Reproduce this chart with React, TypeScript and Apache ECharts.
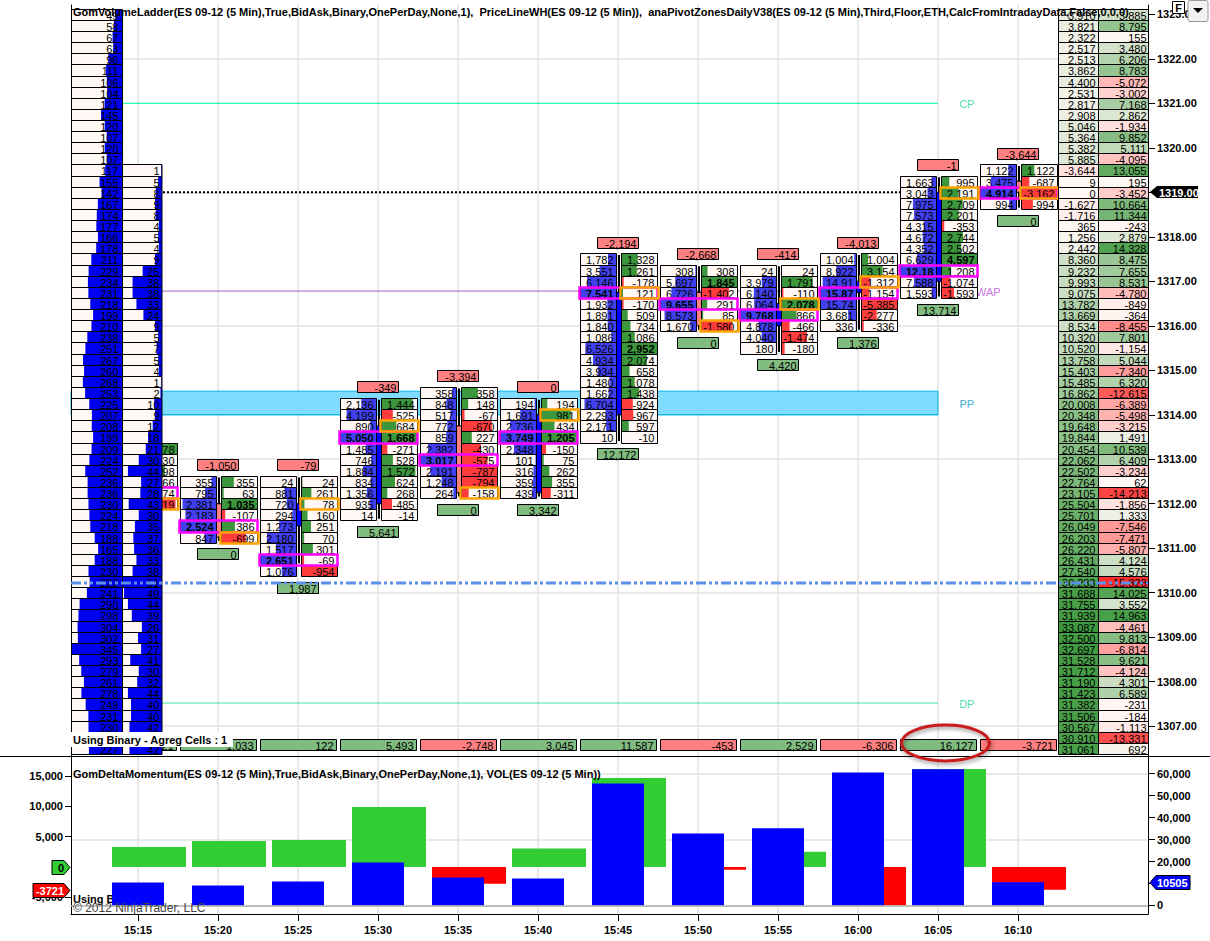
import React, { useEffect, useRef } from "react";
import * as echarts from "echarts";

const timeLabels = ["15:15", "15:20", "15:25", "15:30", "15:35", "15:40", "15:45", "15:50", "15:55", "16:00", "16:05", "16:10"];
const firstRowPrice = [1313.25, 1312.5, 1312.5, 1314.25, 1314.5, 1314.25, 1317.5, 1317.25, 1317.25, 1317.5, 1319.25, 1319.5];
const bidRows: number[][] = [
  [],
  [355, 795, 2381, 2183, 2524, 847],
  [24, 881, 720, 294, 1273, 2180, 1517, 2651, 1076],
  [2136, 4199, 890, 5050, 1485, 746, 1884, 834, 1356, 935, 14],
  [358, 848, 517, 772, 859, 2382, 3017, 2191, 1248, 264],
  [194, 1691, 2736, 3749, 2348, 101, 316, 359, 439],
  [1782, 3551, 6146, 7541, 1932, 1891, 1840, 1086, 6526, 4934, 3934, 1480, 1662, 6704, 2293, 2171, 10],
  [308, 5697, 6726, 9655, 8573, 1670],
  [24, 3979, 6140, 6064, 9768, 4878, 4040, 180],
  [1004, 8922, 14910, 15870, 15740, 3681, 336],
  [1663, 3043, 7975, 7573, 4315, 4672, 4352, 6629, 12180, 7588, 1593],
  [1122, 3475, 4914, 994],
];
const deltaRows: number[][] = [
  [1078, 130, 698, 166, 174, -1019],
  [355, 63, 1035, -107, 386, -699],
  [24, 261, 78, 160, 251, 70, 301, -69, -954],
  [1444, -525, 684, 1668, -271, 528, 1572, 624, 268, -485, -14],
  [358, 148, -67, -670, 227, -430, -575, -787, -794, -158],
  [194, 981, 434, 1205, -150, 75, 262, 355, -311],
  [1328, 1261, -178, 121, -170, 509, 734, 1086, 2952, 2074, 658, 1078, 1438, -924, -967, 597, -10],
  [308, 1845, -1402, 291, 85, -1580],
  [24, 1791, -110, 2078, 866, -466, -1474, -180],
  [1004, 3154, -1312, -1154, -5385, -2277, -336],
  [995, 2191, 2709, 2201, -353, 2744, 2502, 4597, 1208, -1074, -1593],
  [1122, -687, -3162, -994],
];
const pocRow = [4, 4, 7, 3, 6, 3, 3, 3, 4, 3, 8, 2];
const orangeRow = [5, 5, 2, 2, 9, 1, 3, 5, 3, 2, 1, 2];
const boldDeltaRow = [-1, 2, -1, 3, -1, 3, 8, 1, 3, -1, 7, -1];
const candleOpen = [null, 1312, 1311.5, 1312, 1313.75, 1312.25, 1314, 1316.75, 1316, 1316.75, 1317, 1319.25];
const candleClose = [null, 1311.25, 1312, 1313.75, 1312.25, 1314, 1316.75, 1316, 1316.5, 1317, 1319, 1319];
const candleHigh = [null, 1312.5, 1312.5, 1314.25, 1314.5, 1314.25, 1317.5, 1317.25, 1317.25, 1317.5, 1319.25, 1319.5];
const candleLow = [null, 1311.25, 1310.75, 1311.75, 1312.25, 1312.25, 1313.5, 1316, 1315.5, 1316, 1316.75, 1318.75];
const topTags = [null, -1050, -79, -349, -3394, 0, -2194, -2668, -414, -4013, -1, -3644];
const bottomTags = [null, 0, 1987, 5641, 0, 3342, 12172, 0, 4420, 1376, 13714, 0];
const barTotals = [3221, 1033, 122, 5493, -2748, 3045, 11587, -453, 2529, -6306, 16127, -3721];
const deltaMomentum = [3289, 4276, 4440, 9870, -2748, 3045, 14638, -453, 2529, -6306, 16127, -3721];
const volume = [10486, 9118, 10942, 19600, 12766, 12300, 55600, 32800, 35100, 60600, 62000, 10505];

const ladderTopPrice = 1323;
const ladderCol1 = [49, 58, 67, 63, 96, 111, 106, 104, 121, 145, 120, 107, 120, 107, 117, 155, 142, 167, 174, 177, 166, 178, 211, 229, 234, 231, 218, 199, 210, 238, 251, 267, 260, 268, 253, 225, 207, 208, 199, 209, 224, 252, 236, 236, 230, 224, 218, 188, 165, 188, 230, 222, 241, 290, 298, 304, 302, 345, 293, 279, 261, 278, 249, 231, 230, 235, 227];
const ladderCol2TopPrice = 1319.5;
const ladderCol2 = [1, 5, 8, 9, 8, 4, 5, 4, 9, 25, 38, 38, 33, 24, 9, 5, 7, 5, 4, 1, 2, 10, 9, 12, 18, 21, 30, 44, 27, 28, 43, 30, 35, 37, 36, 33, 38, 51, 49, 44, 39, 26, 31, 27, 41, 30, 32, 44, 40, 40, 42, 42, 42];
const profileA = [3910, 3821, 2322, 2517, 2513, 3862, 4400, 2531, 2817, 2908, 5046, 5364, 5382, 5885, -3644, 9, 0, -1627, -1716, 365, 1256, 2442, 8360, 9232, 9993, 9075, 13782, 13669, 8534, 10320, 10520, 13758, 15403, 15485, 16862, 20008, 20348, 19648, 19844, 20454, 22062, 22502, 22764, 23105, 25504, 25701, 26049, 26203, 26220, 26431, 27540, 30283, 31688, 31755, 31939, 33087, 32500, 32697, 31528, 31712, 31190, 31423, 31382, 31506, 30567, 30910, 31061];
const profileB = [3885, 8795, 155, 3480, 6206, 8783, -5072, -3002, 7168, 2862, -1934, 9852, 5111, -4095, 13055, 195, -3452, 10664, 11344, -243, 2879, 14328, 8475, 7655, 8531, -4780, -849, -364, -8455, 7801, -1154, 5044, -7340, 6320, -12615, -6389, -5498, -3215, 1491, 10539, 6409, -3234, 62, -14213, -1856, 1333, -7546, -7471, -5807, 4124, 4576, -15828, 14025, 3552, 14963, -4461, 9813, -6814, 9621, -4124, 4301, 6589, -231, -184, -1113, -13331, 692];

const lastPrice = 1319;
const cpPrice = 1321;
const wapPrice = 1316.78;
const ppTop = 1314.53;
const ppBottom = 1314;
const dpPrice = 1307.52;
const bluePrice = 1310.22;
const priceTicks = [1307, 1308, 1309, 1310, 1311, 1312, 1313, 1314, 1315, 1316, 1317, 1318, 1319, 1320, 1321, 1322, 1323];
const priceGridTicks = [1307, 1310, 1313, 1316, 1319, 1322];
const deltaTicks = [-5000, 5000, 10000, 15000];
const volumeTicks = [0, 10000, 20000, 30000, 40000, 50000, 60000];
const volumeGridTicks = [30000, 60000];
const barIndexes = timeLabels.map((_, i) => i);

const X_MIN = -0.8375;
const X_MAX = 12.625;
const PRICE_MIN = 1306.33;
const PRICE_MAX = 1323.21;
const TOTALS_PRICE = 1306.58;
const STEP = 0.25;
const FONT = "'Liberation Sans', Arial, sans-serif";
const CELL_FONT = `11px ${FONT}`;
const BOLD_FONT = `bold 11px ${FONT}`;
const BG = "#fff8f5";

const fmt = (v: number) => v.toLocaleString("en-US");
const snap = (v: number) => Math.round(v) + 0.5;
const mix = (a: number[], b: number[], t: number) => {
  const k = Math.min(1, Math.max(0, t));
  return `rgb(${a.map((c, i) => Math.round(c + (b[i] - c) * k)).join(",")})`;
};
const bgRgb = [255, 248, 245];
const greenRgb = [63, 154, 63];
const redRgb = [255, 48, 48];

function rowBox(api: any, x: number, price: number) {
  const p = api.coord([x, price]);
  const h = api.size([0, STEP])[1];
  const top = snap(p[1] - h / 2);
  const bottom = snap(p[1] + h / 2);
  return { px: p[0], py: p[1], top, height: bottom - top, mid: (top + bottom) / 2 + 0.5 };
}

const rectEl = (x: number, y: number, w: number, h: number, fill: string, stroke?: string, lineWidth = 1) => ({
  type: "rect",
  shape: { x, y, width: w, height: h },
  style: { fill, stroke: stroke || "none", lineWidth },
});
const textEl = (x: number, y: number, text: string, font = CELL_FONT, fill = "#000", align = "right") => ({
  type: "text",
  style: { x, y, text, font, fill, align, verticalAlign: "middle" },
});

const cellData: number[][] = [];
bidRows.forEach((_, i) => {
  const bids = bidRows[i];
  const deltas = deltaRows[i];
  const bidMax = bids.length ? Math.max(...bids) : 1;
  const deltaMax = Math.max(...deltas.map(Math.abs));
  deltas.forEach((d, r) => {
    cellData.push([i, firstRowPrice[i] - r * STEP, bids.length ? bids[r] : -1, d, bidMax, deltaMax, r === pocRow[i] ? 1 : 0, r === boldDeltaRow[i] ? 1 : 0]);
  });
});

const renderCell = (_p: any, api: any) => {
  const b = rowBox(api, api.value(0), api.value(1));
  const bid = api.value(2);
  const d = api.value(3);
  const cx = snap(b.px);
  const children: any[] = [];
  if (bid >= 0) {
    const w = 36;
    const xL = cx - 38;
    children.push(rectEl(xL, b.top, w, b.height, BG));
    const fw = (bid / api.value(4)) * w;
    children.push(rectEl(xL + w - fw, b.top, fw, b.height, "#4040f0"));
    children.push(rectEl(xL, b.top, w, b.height, "none", "#000"));
    const s = bid >= 10000 ? fmt(bid).slice(0, -1) : fmt(bid);
    children.push(textEl(xL + w - 3, b.mid, s, api.value(6) ? BOLD_FONT : CELL_FONT));
  }
  const w = 36;
  const xR = cx + 3;
  children.push(rectEl(xR, b.top, w, b.height, BG));
  const fw = (Math.abs(d) / api.value(5)) * w;
  children.push(rectEl(xR, b.top, fw, b.height, d >= 0 ? "#3c963c" : "#ff3c3c"));
  children.push(rectEl(xR, b.top, w, b.height, "none", "#000"));
  children.push(textEl(xR + w - 3, b.mid, fmt(d), api.value(7) ? BOLD_FONT : CELL_FONT));
  return { type: "group", children };
};

const candleData = barIndexes
  .filter((i) => candleOpen[i] !== null)
  .map((i) => [i, candleHigh[i] as number, candleLow[i] as number, candleOpen[i] as number, candleClose[i] as number]);
const renderCandle = (_p: any, api: any) => {
  const i = api.value(0);
  const cx = snap(api.coord([i, 0])[0]) + 0.5;
  const yH = api.coord([i, api.value(1)])[1] - 4;
  const yL = api.coord([i, api.value(2)])[1] + 4;
  const yO = api.coord([i, api.value(3)])[1];
  const yC = api.coord([i, api.value(4)])[1];
  const up = api.value(4) >= api.value(3);
  return {
    type: "group",
    children: [
      rectEl(cx - 1, yH, 2, yL - yH, "#000"),
      rectEl(cx - 2.5, Math.min(yO, yC), 5, Math.abs(yO - yC), up ? "#0000ff" : "#ff8080", "#000", 1),
    ],
  };
};

const boxData: number[][] = [];
barIndexes.forEach((i) => {
  boxData.push([i, firstRowPrice[i] - pocRow[i] * STEP, 0]);
});
barIndexes.forEach((i) => {
  boxData.push([i, firstRowPrice[i] - orangeRow[i] * STEP, 1]);
});
const renderBox = (_p: any, api: any) => {
  const b = rowBox(api, api.value(0), api.value(1));
  const cx = snap(b.px);
  const orange = api.value(2) === 1;
  const x = orange ? cx + 2 : cx - 39;
  const w = orange ? 38 : 78;
  return rectEl(x, b.top, w, b.height, "none", orange ? "#ffa500" : "#ff00ff", 2.5);
};

const tagData: number[][] = [];
barIndexes.forEach((i) => {
  if (topTags[i] !== null) tagData.push([i, firstRowPrice[i] + 1.5 * STEP, topTags[i] as number, 0]);
  if (bottomTags[i] !== null)
    tagData.push([i, firstRowPrice[i] - (deltaRows[i].length - 1) * STEP - 1.5 * STEP, bottomTags[i] as number, 1]);
});
const renderTag = (_p: any, api: any) => {
  const p = api.coord([api.value(0), api.value(1)]);
  const cx = snap(p[0]);
  const y = snap(p[1] - 5.5);
  const red = api.value(3) === 0;
  return {
    type: "group",
    children: [
      rectEl(cx - 21, y, 41, 11, red ? "#ff8080" : "#80bc80", "#000"),
      textEl(cx + 18, y + 6, fmt(api.value(2))),
    ],
  };
};

const totalsData = barIndexes.map((i) => [i, TOTALS_PRICE, barTotals[i]]);
const renderTotal = (_p: any, api: any) => {
  const p = api.coord([api.value(0), api.value(1)]);
  const cx = snap(p[0]);
  const y = snap(p[1] - 5.5);
  const v = api.value(2);
  return {
    type: "group",
    children: [
      rectEl(cx - 38, y, 76, 11, v >= 0 ? "#80bc80" : "#ff8080", "#000"),
      textEl(cx + 35, y + 6, fmt(v)),
    ],
  };
};

const ladderData: number[][] = [];
ladderCol1.forEach((v, r) => ladderData.push([X_MIN, ladderTopPrice - r * STEP, v, 0]));
ladderCol2.forEach((v, r) => ladderData.push([X_MIN, ladderCol2TopPrice - r * STEP, v, 1]));
const renderLadder = (_p: any, api: any) => {
  const b = rowBox(api, api.value(0), api.value(1));
  const second = api.value(3) === 1;
  const x = snap(b.px) + (second ? 51 : 0);
  const w = second ? 39.5 : 51;
  const v = api.value(2);
  const fw = (v / (second ? Math.max(...ladderCol2) : Math.max(...ladderCol1))) * w;
  return {
    type: "group",
    children: [
      rectEl(x, b.top, w, b.height, BG),
      rectEl(x + w - fw, b.top, fw, b.height, "#0000f0"),
      rectEl(x, b.top, w, b.height, "none", "#000"),
      textEl(x + w - (second ? 2.5 : 4), b.mid, String(v)),
    ],
  };
};

const profileData: number[][] = profileA.map((a, r) => [X_MAX, ladderTopPrice - r * STEP, a, profileB[r]]);
const renderProfile = (_p: any, api: any) => {
  const b = rowBox(api, api.value(0), api.value(1));
  const xEnd = snap(b.px);
  const a = api.value(2);
  const d = api.value(3);
  const maxA = Math.max(...profileA.map(Math.abs));
  const maxB = Math.max(...profileB.map(Math.abs));
  const xMid = xEnd - 50;
  const xStart = xEnd - 90;
  const fa = a >= 0 ? mix(bgRgb, greenRgb, a / maxA) : mix(bgRgb, redRgb, -a / maxA);
  const fb = d >= 0 ? mix(bgRgb, greenRgb, d / maxB) : mix(bgRgb, redRgb, -d / maxB);
  return {
    type: "group",
    children: [
      rectEl(xStart, b.top, 40, b.height, fa, "#000"),
      rectEl(xMid, b.top, 50, b.height, fb, "#000"),
      textEl(xMid - 3, b.mid, fmt(a)),
      textEl(xEnd - 2, b.mid, fmt(d)),
    ],
  };
};

const pivotLabels: (string | number)[][] = [
  [10.36, cpPrice, "CP", "#52e0a8"],
  [10.63, wapPrice, "WAP", "#c878e0"],
  [10.36, (ppTop + ppBottom) / 2, "PP", "#3fb0d8"],
  [10.36, dpPrice, "DP", "#52e0a8"],
];
const renderPivotLabel = (p: any, api: any) => {
  const pt = api.coord([api.value(0), api.value(1)]);
  const row = pivotLabels[p.dataIndex];
  return textEl(pt[0], pt[1] + 1, String(row[2]), `11px ${FONT}`, String(row[3]), "center");
};

const renderPriceTag = (_p: any, api: any) => {
  const pt = api.coord([api.value(0), api.value(1)]);
  const x = pt[0] + 2;
  const y = snap(pt[1]) - 0.5;
  return {
    type: "group",
    children: [
      { type: "polygon", shape: { points: [[x, y], [x + 7, y - 6], [x + 48, y - 6], [x + 48, y + 6], [x + 7, y + 6]] }, style: { fill: "#000" } },
      textEl(x + 9, y + 0.5, fmt(api.value(1)).replace(",", "") + ".00", BOLD_FONT, "#fff", "left"),
    ],
  };
};
const renderVolumeTag = (_p: any, api: any) => {
  const pt = api.coord([api.value(0), api.value(1)]);
  const x = pt[0] + 2;
  const y = snap(pt[1]);
  return {
    type: "group",
    children: [
      { type: "polygon", shape: { points: [[x, y], [x + 6, y - 7], [x + 40, y - 7], [x + 40, y + 7], [x + 6, y + 7]] }, style: { fill: "#0000ff", stroke: "#000", lineWidth: 1 } },
      textEl(x + 7, y + 0.5, String(api.value(1)), BOLD_FONT, "#fff", "left"),
    ],
  };
};
const renderDeltaTag = (_p: any, api: any) => {
  const pt = api.coord([api.value(0), api.value(1)]);
  const x = pt[0] - 1;
  const y = snap(pt[1]);
  const v = api.value(1);
  const w = v === 0 ? 18 : 37;
  return {
    type: "group",
    children: [
      { type: "polygon", shape: { points: [[x, y], [x - 6, y - 7], [x - w, y - 7], [x - w, y + 7], [x - 6, y + 7]] }, style: { fill: v === 0 ? "#32cd32" : "#ff0000", stroke: "#000", lineWidth: 1 } },
      textEl(x - 6, y + 0.5, String(v), BOLD_FONT, v === 0 ? "#000" : "#fff"),
    ],
  };
};

const custom = (z: number, data: any[], renderItem: any, xAxisIndex = 0, yAxisIndex = 0) => ({
  type: "custom",
  coordinateSystem: "cartesian2d",
  xAxisIndex,
  yAxisIndex,
  z,
  silent: true,
  clip: false,
  data,
  renderItem,
});
const hLine = (z: number, price: number, x0: number, x1: number, color: string, width: number, type: any = "solid") => ({
  type: "line",
  xAxisIndex: 0,
  yAxisIndex: 0,
  z,
  silent: true,
  symbol: "none",
  data: [[x0, price], [x1, price]],
  lineStyle: { color, width, type },
});

const axisLabelStyle = { color: "#000", fontFamily: FONT, fontSize: 11, fontWeight: "bold" as const };
const blackLine = { show: true, onZero: false, lineStyle: { color: "#000", width: 1 } };
const blackTick = { show: true, length: 7, lineStyle: { color: "#000", width: 1 } };
const gridSplit = { show: true, lineStyle: { color: "#e2e2e2", width: 1.5 } };

export default function App() {
  const ref = useRef<HTMLDivElement>(null);
  useEffect(() => {
    document.body.style.margin = "0";
    const chart = echarts.init(ref.current!, undefined, { renderer: "svg" });
    const option: any = {
      animation: false,
      backgroundColor: "#fff",
      grid: [
        { left: 71, right: 62, top: 5, height: 751 },
        { left: 71, right: 62, top: 756, height: 158 },
      ],
      xAxis: [
        {
          type: "value", gridIndex: 0, min: X_MIN, max: X_MAX,
          axisLine: { show: false },
          axisTick: { show: false, customValues: barIndexes },
          axisLabel: { show: false, customValues: barIndexes },
          splitLine: gridSplit,
        },
        {
          type: "value", gridIndex: 1, min: X_MIN, max: X_MAX, position: "bottom",
          axisLine: blackLine,
          axisTick: { ...blackTick, customValues: barIndexes },
          axisLabel: { ...axisLabelStyle, customValues: barIndexes, margin: 10, formatter: (v: number) => timeLabels[v] ?? "" },
          splitLine: gridSplit,
        },
      ],
      yAxis: [
        {
          type: "value", gridIndex: 0, position: "right", min: PRICE_MIN, max: PRICE_MAX,
          axisLine: blackLine,
          axisTick: { ...blackTick, customValues: priceTicks },
          axisLabel: { ...axisLabelStyle, customValues: priceTicks, margin: 9, formatter: (v: number) => v.toFixed(2) },
          splitLine: { show: false },
        },
        {
          type: "value", gridIndex: 0, position: "left", min: PRICE_MIN, max: PRICE_MAX,
          axisLine: blackLine,
          axisTick: { show: false, customValues: priceGridTicks },
          axisLabel: { show: false, customValues: priceGridTicks },
          splitLine: gridSplit,
        },
        {
          type: "value", gridIndex: 1, position: "left", min: -7730, max: 18260,
          axisLine: blackLine,
          axisTick: { ...blackTick, length: 6, customValues: deltaTicks },
          axisLabel: { ...axisLabelStyle, customValues: deltaTicks, margin: 8 },
          splitLine: { show: false },
        },
        {
          type: "value", gridIndex: 1, position: "right", min: -3920, max: 68080,
          axisLine: blackLine,
          axisTick: { ...blackTick, customValues: volumeTicks },
          axisLabel: { ...axisLabelStyle, customValues: volumeTicks, margin: 9 },
          splitLine: { show: false },
        },
        {
          type: "value", gridIndex: 1, position: "right", min: -3920, max: 68080,
          axisLine: { show: false },
          axisTick: { show: false, customValues: volumeGridTicks },
          axisLabel: { show: false, customValues: volumeGridTicks },
          splitLine: gridSplit,
        },
      ],
      series: [
        {
          type: "line", xAxisIndex: 0, yAxisIndex: 0, z: 1, silent: true, symbol: "none",
          data: [[X_MIN, ppBottom], [10, ppBottom]],
          lineStyle: { color: "#00b4e6", width: 1 },
          markArea: {
            silent: true,
            itemStyle: { color: "#80dcff", borderColor: "#00b4e6", borderWidth: 1 },
            data: [[{ coord: [X_MIN, ppTop] }, { coord: [10, ppBottom] }]],
          },
        },
        hLine(2, cpPrice, X_MIN, 10, "#00fa9a", 1),
        hLine(2, dpPrice, X_MIN, 10, "#40e0a0", 1),
        hLine(2, wapPrice, X_MIN, 10.45, "#a060c8", 1),
        hLine(2, lastPrice, X_MIN, 11.5, "#000", 2, [2, 2]),
        custom(3, pivotLabels, renderPivotLabel),
        custom(5, cellData, renderCell),
        custom(6, candleData, renderCandle),
        custom(7, boxData, renderBox),
        custom(7, tagData, renderTag),
        custom(7, totalsData, renderTotal),
        custom(8, ladderData, renderLadder),
        custom(8, profileData, renderProfile),
        hLine(9, bluePrice, X_MIN, X_MAX, "#5b8fe8", 3, [10, 3, 3, 3, 3, 3]),
        custom(9, [[X_MAX, lastPrice]], renderPriceTag),
        {
          type: "bar", xAxisIndex: 1, yAxisIndex: 2, z: 3, silent: true, barWidth: 74, barGap: "-100%",
          data: deltaMomentum.map((v, i) => ({ value: [i, v], itemStyle: { color: v >= 0 ? "#32cd32" : "#ff0000" } })),
        },
        {
          type: "bar", xAxisIndex: 1, yAxisIndex: 3, z: 4, silent: true, barWidth: 52, barGap: "-100%",
          data: volume.map((v, i) => [i, v]),
          itemStyle: { color: "#0000ff" },
          markLine: {
            silent: true, symbol: "none", label: { show: false },
            lineStyle: { color: "#a8a8a8", width: 1.5, type: "solid" },
            data: [{ yAxis: 0 }],
          },
        },
        custom(9, [[X_MAX, volume[volume.length - 1]]], renderVolumeTag, 1, 3),
        custom(9, [[X_MIN, 0], [X_MIN, deltaMomentum[deltaMomentum.length - 1]]], renderDeltaTag, 1, 2),
      ],
      graphic: [
        { type: "line", z: 20, shape: { x1: 0, y1: 756.5, x2: 1210, y2: 756.5 }, style: { stroke: "#000", lineWidth: 1 } },
        {
          type: "text", z: 30, x: 73, y: 12,
          style: {
            text: "GomVolumeLadder(ES 09-12 (5 Min),True,BidAsk,Binary,OnePerDay,None,1),  PriceLineWH(ES 09-12 (5 Min)),  anaPivotZonesDailyV38(ES 09-12 (5 Min),Third,Floor,ETH,CalcFromIntradayData,False,0,0,0)",
            font: BOLD_FONT, fill: "#000", verticalAlign: "middle",
          },
        },
        { type: "rect", z: 30, shape: { x: 71, y: 732, width: 162, height: 15 }, style: { fill: "#fff" } },
        { type: "text", z: 31, x: 73, y: 739.5, style: { text: "Using Binary - Agreg Cells : 1", font: BOLD_FONT, fill: "#000", verticalAlign: "middle" } },
        {
          type: "text", z: 30, x: 73, y: 774,
          style: {
            text: "GomDeltaMomentum(ES 09-12 (5 Min),True,BidAsk,Binary,OnePerDay,None,1), VOL(ES 09-12 (5 Min))",
            font: BOLD_FONT, fill: "#000", verticalAlign: "middle",
          },
        },
        { type: "text", z: 1, x: 73, y: 899, style: { text: "Using Binary", font: BOLD_FONT, fill: "#000", verticalAlign: "middle" } },
        { type: "text", z: 30, x: 73, y: 908, style: { text: "\u00A9 2012 NinjaTrader, LLC", font: `12px ${FONT}`, fill: "#444", verticalAlign: "middle" } },
        {
          type: "ellipse", z: 30, shape: { cx: 945.5, cy: 743, rx: 44, ry: 18 },
          style: { fill: "none", stroke: "#c81e1e", lineWidth: 3, shadowBlur: 4, shadowColor: "rgba(0,0,0,0.45)", shadowOffsetX: 1, shadowOffsetY: 2 },
        },
        { type: "rect", z: 30, shape: { x: 1172.5, y: 1.5, width: 12, height: 12 }, style: { fill: "#fff", stroke: "#000", lineWidth: 1 } },
        { type: "text", z: 31, x: 1178.5, y: 8, style: { text: "F", font: BOLD_FONT, fill: "#000", align: "center", verticalAlign: "middle" } },
        { type: "rect", z: 30, shape: { x: 1188, y: 0.5, width: 20, height: 21, r: 2 }, style: { fill: "#f2f2f2", stroke: "#999", lineWidth: 1 } },
        { type: "polygon", z: 31, shape: { points: [[1193, 8], [1203, 8], [1198, 13]] }, style: { fill: "#000" } },
      ],
    };
    chart.setOption(option);
    return () => chart.dispose();
  }, []);
  return <div ref={ref} style={{ position: "fixed", left: 0, top: 0, width: 1210, height: 941 }} />;
}
